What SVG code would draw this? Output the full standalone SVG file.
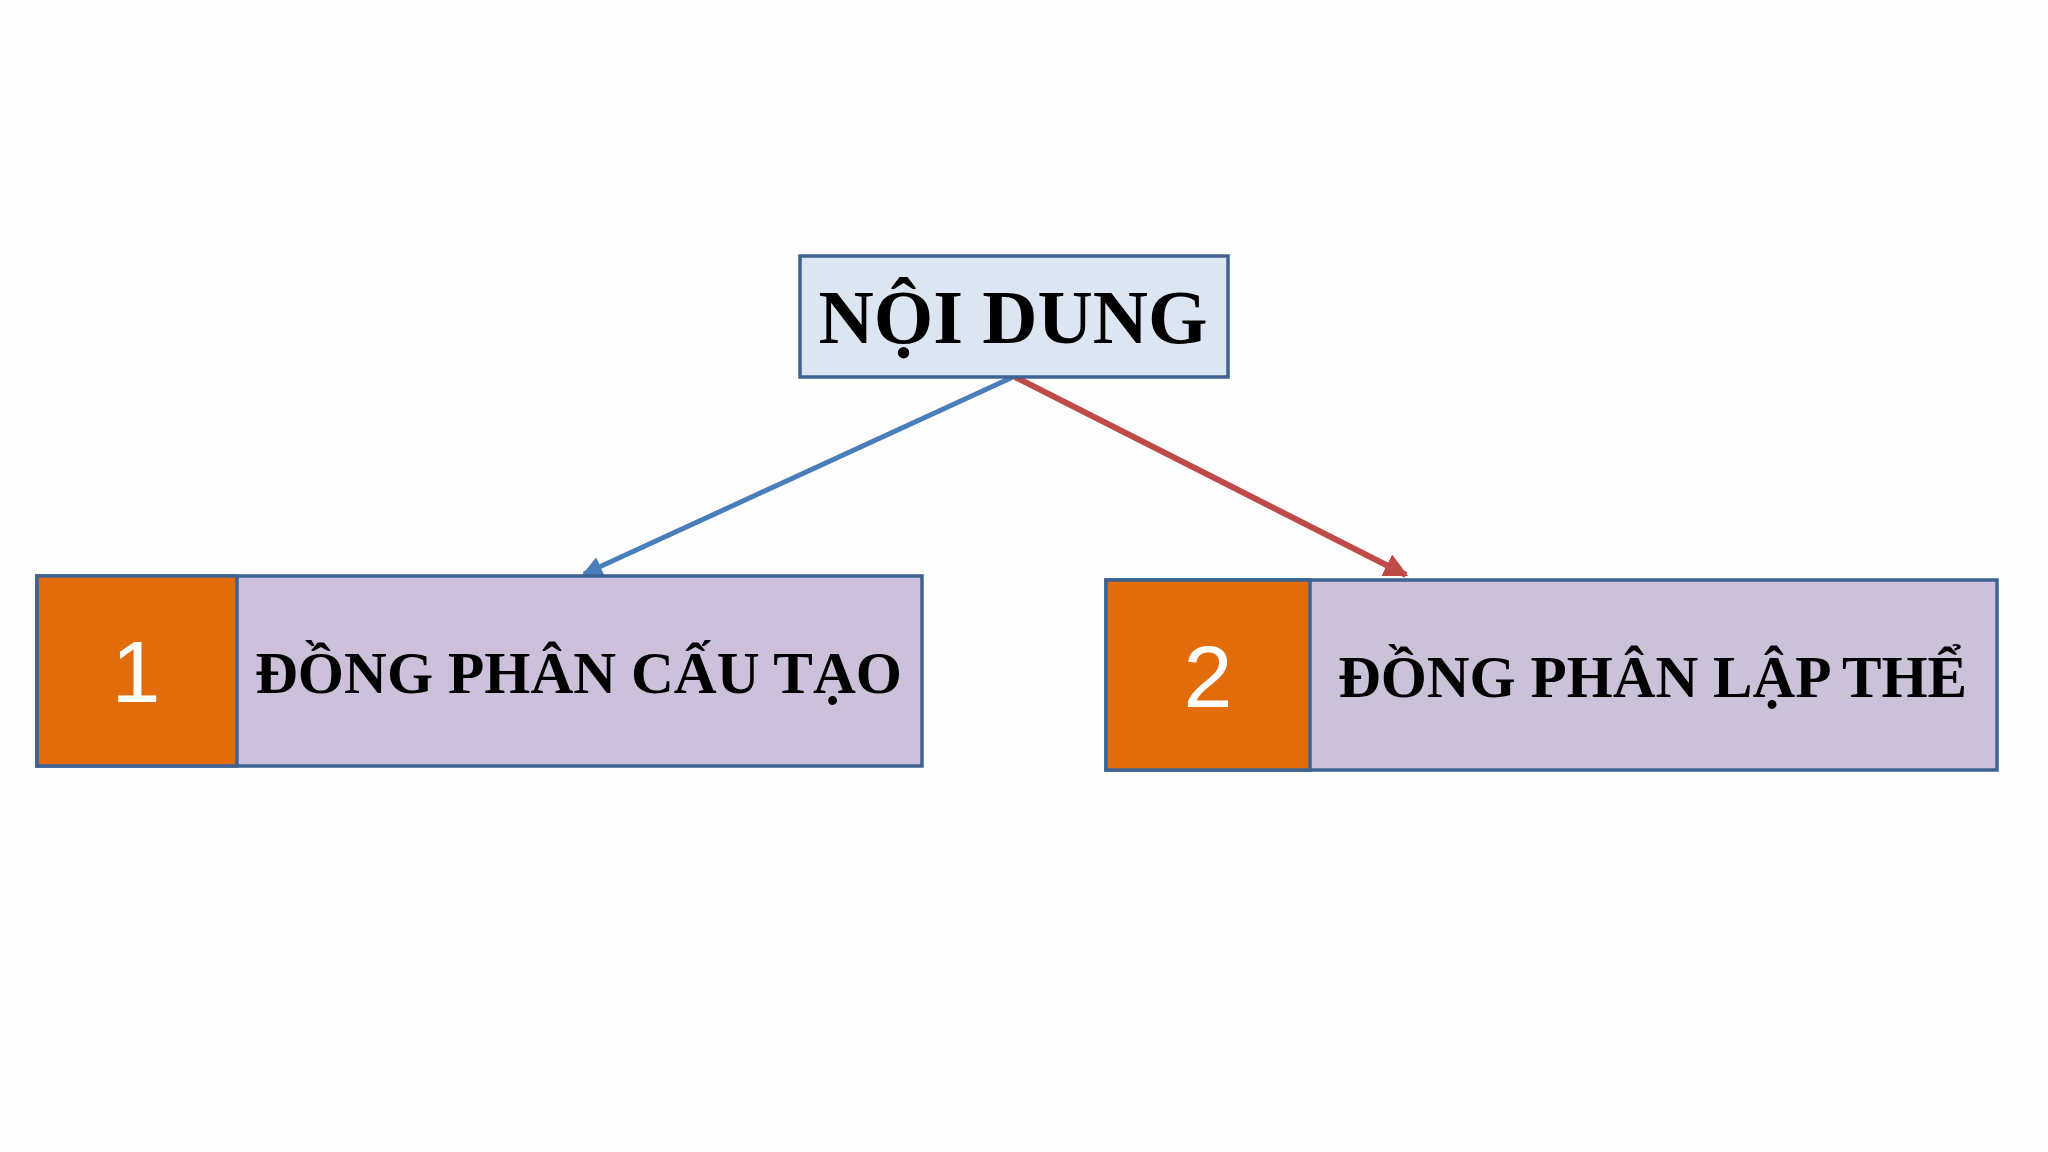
<svg xmlns="http://www.w3.org/2000/svg" width="2048" height="1152" viewBox="0 0 2048 1152">
<style>
.box{stroke:#3e6393;stroke-width:3.5}
.title{font-family:"Liberation Serif","Times New Roman",serif;font-weight:bold;fill:#000}
.num{font-family:"Liberation Sans",Arial,sans-serif;fill:#fff;font-size:88px;text-anchor:middle}
</style>
<defs>
<marker id="ab" viewBox="0 0 10 10" refX="9" refY="5" markerWidth="4" markerHeight="4" orient="auto" markerUnits="strokeWidth"><path d="M0,0 L10,5 L0,10 z" fill="#4a7ebb"/></marker>
<marker id="ar" viewBox="0 0 10 10" refX="9" refY="5" markerWidth="4" markerHeight="4" orient="auto" markerUnits="strokeWidth"><path d="M0,0 L10,5 L0,10 z" fill="#be4b48"/></marker>
</defs>
<rect width="2048" height="1152" fill="#fefefe"/>
<g id="connectors">
<line x1="1013" y1="377" x2="584" y2="574" stroke="#4a7ebb" stroke-width="5" marker-end="url(#ab)"/>
<line x1="1015" y1="377" x2="1406" y2="575" stroke="#be4b48" stroke-width="6" marker-end="url(#ar)"/>
</g>
<g id="node-noidung">
<rect class="box" x="800" y="256" width="428" height="121" fill="#dce6f2"/>
<text class="title" x="1013" y="343" font-size="76" text-anchor="middle" textLength="389" lengthAdjust="spacingAndGlyphs">NỘI DUNG</text>
</g>
<g id="node-1">
<rect class="box" x="37" y="576" width="885" height="190" fill="#ccc0da"/>
<rect class="box" x="37" y="576" width="200" height="190" fill="#e36c0a"/>
<text class="num" x="136" y="702">1</text>
<text class="title" x="255" y="693" font-size="60" textLength="647" lengthAdjust="spacingAndGlyphs">ĐỒNG PHÂN CẤU TẠO</text>
</g>
<g id="node-2">
<rect class="box" x="1106" y="580" width="891" height="190" fill="#cbc2da"/>
<rect class="box" x="1106" y="580" width="204" height="190" fill="#e36c0a"/>
<text class="num" x="1208" y="707">2</text>
<text class="title" x="1338" y="697" font-size="60" textLength="629" lengthAdjust="spacingAndGlyphs">ĐỒNG PHÂN LẬP THỂ</text>
</g>
</svg>
